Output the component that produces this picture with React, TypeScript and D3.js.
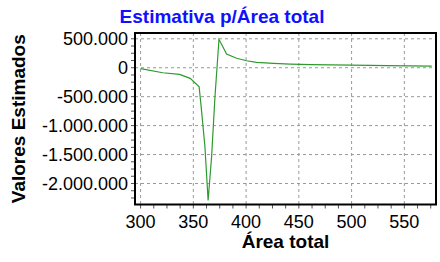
import * as d3 from "d3";

// values
const areaTotal = [300, 321, 337, 347, 355.5, 358, 361, 364, 367.3, 370.5, 374.3, 381.5, 391, 400.5, 410, 426, 442, 461, 500, 534, 576];
const estimados = [-15000, -87000, -114000, -183000, -329000, -784000, -1370000, -2295000, -1540000, -502000, 491000, 237000, 163000, 121000, 93000, 76000, 62000, 52000, 45000, 36000, 29000];
const xTicks = [300, 350, 400, 450, 500, 550];
const yTicks = [500000, 0, -500000, -1000000, -1500000, -2000000];

const W = 440;
const H = 262;
const box = { left: 135, right: 436, top: 33, bottom: 204.5 };

const ptBR = d3.formatLocale({ decimal: ",", thousands: ".", grouping: [3], currency: ["R$", ""], minus: "-" });
const fmt = ptBR.format(",d");

export default function App() {
  const x = d3.scaleLinear().domain([294.7, 580]).range([box.left, box.right]);
  const y = d3.scaleLinear().domain([-2363000, 600000]).range([box.bottom, box.top]);

  const pts = areaTotal.map((a, i) => [a, estimados[i]] as [number, number]);
  const line = d3
    .line<[number, number]>()
    .x((d) => x(d[0]))
    .y((d) => y(d[1]));

  const xMinor = d3.range(300, 580, 12.5);
  const yMinor = d3.range(-2250000, 600000, 125000);
  const gridStyle = { stroke: "#999", strokeWidth: 1, strokeDasharray: "3,3" };

  return (
    <svg width={W} height={H} style={{ position: "absolute", left: 0, top: 0, background: "#fff" }} fontFamily="'Liberation Sans', Arial, sans-serif">
      <text x={222} y={23} textAnchor="middle" fontSize={19} fontWeight="bold" fill="#1010ff">
        Estimativa p/Área total
      </text>

      {/* grid */}
      {xTicks.map((t) => (
        <line key={"gx" + t} x1={x(t)} x2={x(t)} y1={box.top} y2={box.bottom} {...gridStyle} />
      ))}
      {yTicks.map((t) => (
        <line key={"gy" + t} x1={box.left} x2={box.right} y1={y(t)} y2={y(t)} {...gridStyle} />
      ))}

      {/* ticks */}
      {xMinor.map((t) => (
        <line key={"mx" + t} x1={x(t)} x2={x(t)} y1={box.bottom} y2={box.bottom + 4} stroke="#555" />
      ))}
      {yMinor.map((t) => (
        <line key={"my" + t} x1={box.left - 4} x2={box.left} y1={y(t)} y2={y(t)} stroke="#555" />
      ))}

      <clipPath id="plot">
        <rect x={box.left} y={box.top} width={box.right - box.left} height={box.bottom - box.top} />
      </clipPath>
      <path d={line(pts) || ""} fill="none" stroke="#2e9a2e" strokeWidth={1.2} clipPath="url(#plot)" />

      <rect x={box.left} y={box.top} width={box.right - box.left} height={box.bottom - box.top} fill="none" stroke="#000" strokeWidth={2} />

      {/* tick labels */}
      {xTicks.map((t) => (
        <text key={"lx" + t} x={x(t)} y={228} textAnchor="middle" fontSize={18} fill="#000">
          {t}
        </text>
      ))}
      {yTicks.map((t) => (
        <text key={"ly" + t} x={128} y={y(t)} dy="0.36em" textAnchor="end" fontSize={18} fill="#000">
          {fmt(t)}
        </text>
      ))}

      <text x={(box.left + box.right) / 2} y={248} textAnchor="middle" fontSize={19} fontWeight="bold" fill="#000">
        Área total
      </text>
      <text transform={`translate(25, ${(box.top + box.bottom) / 2}) rotate(-90)`} textAnchor="middle" fontSize={19} fontWeight="bold" fill="#000">
        Valores Estimados
      </text>
    </svg>
  );
}
